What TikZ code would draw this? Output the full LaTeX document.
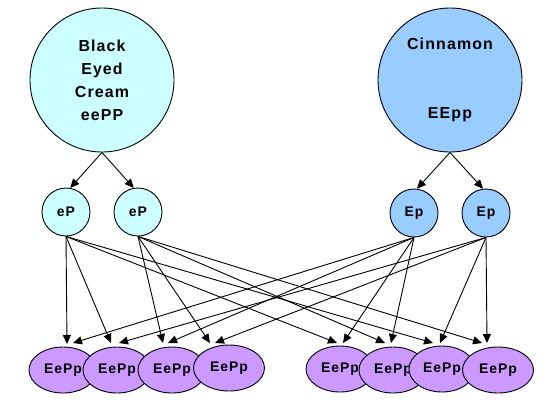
\documentclass[tikz,border=0pt]{standalone}
\usepackage{fontspec}
\setmainfont{Liberation Sans}
\newfontfamily\labfont{Liberation Sans}[LetterSpace=7]
\usetikzlibrary{arrows.meta,shapes.geometric,calc}
\definecolor{cyanfill}{HTML}{CCFFFF}
\definecolor{bluefill}{HTML}{99CCFF}
\definecolor{purplefill}{HTML}{CC99FF}
\begin{document}
\begin{tikzpicture}[x=1bp,y=-1bp,
  bigc/.style={circle,draw=black,line width=0.9bp,minimum size=144bp,inner sep=0pt,align=center,
    font=\labfont\fontsize{16}{23}\selectfont\bfseries},
  gam/.style={circle,draw=black,line width=0.9bp,minimum size=48bp,inner sep=0pt,
    font=\labfont\fontsize{14}{16}\selectfont\bfseries},
  kid/.style={ellipse,draw=black,line width=0.9bp,fill=purplefill,minimum width=68bp,minimum height=46bp,inner sep=0pt,
    font=\labfont\fontsize{14}{16}\selectfont\bfseries},
  arr/.style={-{Triangle[length=9bp,width=8bp]},line width=0.9bp,black}]
\useasboundingbox (0,0) rectangle (558,407);
\fill[white] (0,0) rectangle (558,407);

% parents
\node[bigc,fill=cyanfill] (BL) at (102,80) {Black\\Eyed\\Cream\\eePP};
\node[bigc,fill=bluefill] (BR) at (450,80) {Cinnamon\\\mbox{}\\\mbox{}\\EEpp};

% gametes
\node[gam,fill=cyanfill] (L1) at (66,212) {\raisebox{1bp}{eP}};
\node[gam,fill=cyanfill] (L2) at (138,212) {\raisebox{1bp}{eP}};
\node[gam,fill=bluefill] (R1) at (414,213) {\raisebox{1bp}{Ep}};
\node[gam,fill=bluefill] (R2) at (486,213) {\raisebox{1bp}{Ep}};

% offspring
\node[kid] (E1) at (63,370) {\raisebox{2bp}{EePp}};
\node[kid] (E2) at (117,370) {\raisebox{2bp}{EePp}};
\node[kid] (E3) at (172,370) {\raisebox{2bp}{EePp}};
\node[kid,minimum width=71bp] (E4) at (229,368) {\raisebox{2bp}{EePp}};
\node[kid] (E5) at (340,369) {\raisebox{2bp}{EePp}};
\node[kid] (E6) at (393,370) {\raisebox{2bp}{EePp}};
\node[kid,minimum width=66bp] (E7) at (442,369) {\raisebox{2bp}{EePp}};
\node[kid,minimum width=71bp] (E8) at (498,370) {\raisebox{2bp}{EePp}};

% parent -> gamete
\draw[arr] (BL.south) -- (L1.80);
\draw[arr] (BL.south) -- (L2.100);
\draw[arr] (BR.south) -- (R1.83);
\draw[arr] (BR.south) -- (R2.97);

% gamete -> offspring, left group
\draw[arr] (L1.south) -- ($(E1.center)+(4,-26)$);
\draw[arr] (R1.south) -- ($(E1.center)+(10,-27)$);
\draw[arr] (L1.south) -- ($(E2.center)+(-6,-27)$);
\draw[arr] (R2.south) -- ($(E2.center)+(2,-27)$);
\draw[arr] (L2.south) -- ($(E3.center)+(-9,-27)$);
\draw[arr] (R1.south) -- ($(E3.center)+(-4,-27)$);
\draw[arr] (L2.south) -- ($(E4.center)+(-19,-25)$);
\draw[arr] (R2.south) -- ($(E4.center)+(-14,-25)$);

% gamete -> offspring, right group
\draw[arr] (L1.south) -- ($(E5.center)+(-3,-26)$);
\draw[arr] (R1.south) -- ($(E5.center)+(3,-26)$);
\draw[arr] (L2.south) -- ($(E6.center)+(-8,-27)$);
\draw[arr] (R1.south) -- ($(E6.center)+(-2,-27)$);
\draw[arr] (L1.south) -- ($(E7.center)+(-9,-26)$);
\draw[arr] (R2.south) -- ($(E7.center)+(-2,-26)$);
\draw[arr] (L2.south) -- ($(E8.center)+(-16,-27)$);
\draw[arr] (R2.south) -- ($(E8.center)+(-11,-27)$);
\end{tikzpicture}
\end{document}
